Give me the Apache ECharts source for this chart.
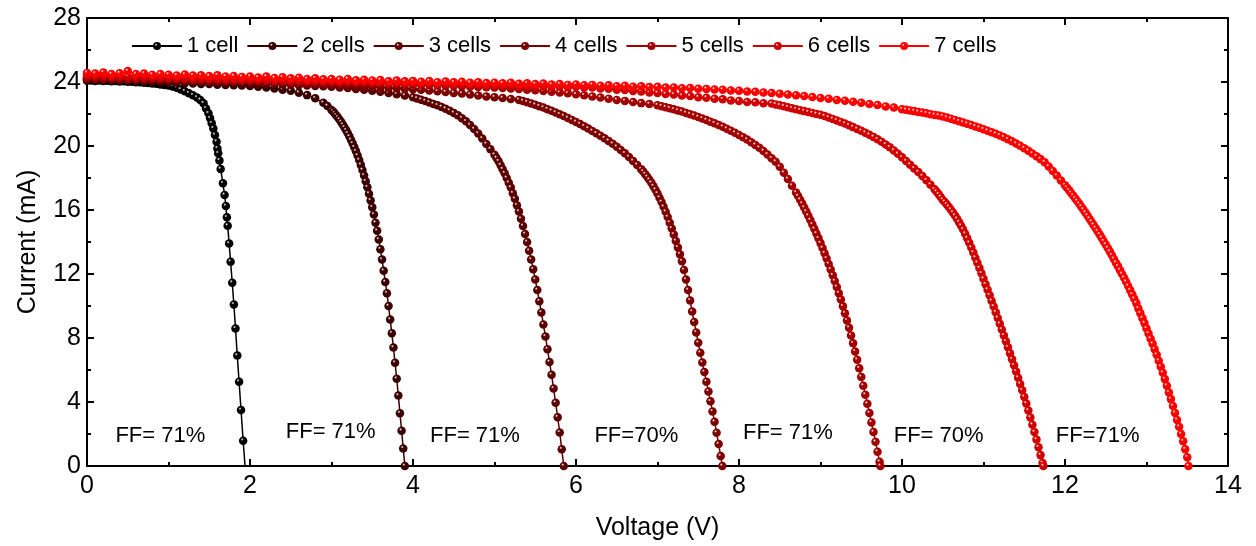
<!DOCTYPE html>
<html>
<head>
<meta charset="utf-8">
<script src="https://cdn.jsdelivr.net/npm/echarts@6/dist/echarts.min.js"></script>
<style>
  html, body { margin: 0; padding: 0; background: #fff; }
  #chart { width: 1256px; height: 546px; }
</style>
</head>
<body>
<div id="chart"></div>
<script>
// series names and colours
const seriesNames = ['1 cell', '2 cells', '3 cells', '4 cells', '5 cells', '6 cells', '7 cells']
const seriesColors = ['#000000', '#3a0000', '#5a0000', '#7c0000', '#a20000', '#d00000', '#ff0000']

// [voltage V, current mA]
const cell1 = [[0.00,24.08],[0.05,24.10],[0.10,24.07],[0.15,24.09],[0.20,24.06],[0.25,24.08],[0.30,24.05],[0.35,24.06],[0.40,24.03],[0.45,24.04],[0.50,24.01],[0.55,24.01],[0.60,23.98],[0.65,23.98],[0.70,23.95],[0.75,23.94],[0.80,23.91],[0.85,23.89],[0.90,23.85],[0.95,23.82],[1.00,23.78],[1.05,23.72],[1.10,23.64],[1.15,23.53],[1.20,23.42],[1.25,23.30],[1.30,23.17],[1.35,23.03],[1.39,22.88],[1.43,22.67],[1.46,22.35],[1.49,22.04],[1.51,21.73],[1.53,21.42],[1.55,21.10],[1.57,20.69],[1.59,20.27],[1.60,19.85],[1.61,19.54],[1.625,19.10],[1.64,18.56],[1.668,17.67],[1.688,16.94],[1.704,16.25],[1.716,15.54],[1.726,15.02],[1.744,13.90],[1.762,12.77],[1.782,11.46],[1.802,10.10],[1.822,8.60],[1.844,6.90],[1.866,5.27],[1.890,3.50],[1.916,1.58],[1.945,-0.40]]

const cell2 = [[0.0,24.12],[0.1,24.12],[0.2,24.10],[0.3,24.10],[0.4,24.08],[0.5,24.07],[0.6,24.04],[0.7,24.03],[0.8,24.00],[0.9,23.99],[1.0,23.96],[1.1,23.95],[1.2,23.92],[1.3,23.91],[1.4,23.88],[1.5,23.87],[1.6,23.83],[1.7,23.82],[1.8,23.79],[1.9,23.78],[2.0,23.75],[2.1,23.71],[2.2,23.65],[2.3,23.60],[2.4,23.52],[2.5,23.45],[2.6,23.33],[2.7,23.18],[2.8,22.98],[2.9,22.70],[2.95,22.50],
  [3.00,22.25],[3.02,22.15],[3.04,22.03],[3.06,21.91],[3.08,21.78],[3.10,21.64],[3.12,21.49],[3.14,21.33],[3.16,21.16],[3.18,20.98],[3.20,20.79],[3.22,20.59],[3.24,20.38],[3.26,20.16],[3.28,19.92],[3.30,19.67],[3.32,19.40],[3.34,19.12],[3.36,18.82],[3.38,18.50],[3.40,18.16],[3.42,17.80],[3.44,17.42],[3.46,17.02],[3.48,16.60],[3.50,16.17],[3.52,15.72],[3.54,15.20],[3.56,14.70],[3.58,14.15],[3.60,13.55],[3.62,12.90],[3.64,12.20],[3.66,11.50],[3.68,10.80],[3.70,10.00],[3.72,9.15],[3.74,8.30],[3.76,7.40],[3.78,6.45],[3.80,5.45],[3.82,4.40],[3.84,3.30],[3.86,2.20],[3.88,1.10],[3.90,0.00]]

const cell3 = [[0.0,24.18],[0.1,24.18],[0.2,24.16],[0.3,24.15],[0.4,24.14],[0.5,24.13],[0.6,24.12],[0.7,24.11],[0.8,24.10],[0.9,24.09],[1.0,24.08],[1.1,24.06],[1.2,24.05],[1.3,24.03],[1.4,24.02],[1.5,24.00],[1.6,23.99],[1.7,23.97],[1.8,23.96],[1.9,23.94],[2.0,23.93],[2.1,23.91],[2.2,23.89],[2.3,23.87],[2.4,23.85],[2.5,23.83],[2.6,23.80],[2.7,23.78],[2.8,23.75],[2.9,23.73],[3.0,23.70],[3.1,23.66],[3.2,23.62],[3.3,23.57],[3.4,23.51],[3.5,23.45],[3.6,23.39],[3.7,23.32],[3.8,23.24],[3.9,23.15],
  [4.00,23.04],[4.05,22.97],[4.10,22.89],[4.15,22.81],[4.20,22.72],[4.25,22.63],[4.30,22.54],[4.35,22.44],[4.40,22.33],[4.45,22.21],[4.50,22.07],[4.55,21.92],[4.60,21.74],[4.65,21.54],[4.70,21.31],[4.75,21.06],[4.80,20.78],[4.85,20.47],[4.90,20.13],[4.95,19.80],[5.00,19.45],
  [5.025,19.25],[5.050,19.05],[5.075,18.80],[5.100,18.55],[5.125,18.30],[5.150,18.00],[5.175,17.70],[5.200,17.40],[5.225,17.05],[5.250,16.70],[5.275,16.30],[5.300,15.90],[5.325,15.45],[5.350,15.00],[5.375,14.50],[5.400,14.00],[5.425,13.45],[5.450,12.90],[5.475,12.30],[5.500,11.65],[5.525,11.00],[5.550,10.30],[5.575,9.60],[5.600,8.85],[5.625,8.10],[5.650,7.30],[5.675,6.50],[5.700,5.70],[5.725,4.85],[5.750,3.95],[5.775,3.05],[5.800,2.10],[5.825,1.05],[5.850,0.00]]

const cell4 = [[0.0,24.22],[0.1,24.21],[0.2,24.21],[0.3,24.19],[0.4,24.19],[0.5,24.18],[0.6,24.16],[0.7,24.16],[0.8,24.15],[0.9,24.14],[1.0,24.13],[1.1,24.12],[1.2,24.11],[1.3,24.10],[1.4,24.09],[1.5,24.08],[1.6,24.07],[1.7,24.06],[1.8,24.05],[1.9,24.04],[2.0,24.03],[2.1,24.01],[2.2,23.99],[2.3,23.97],[2.4,23.95],[2.5,23.93],[2.6,23.91],[2.7,23.89],[2.8,23.87],[2.9,23.85],[3.0,23.83],[3.1,23.80],[3.2,23.78],[3.3,23.75],[3.4,23.73],[3.5,23.70],[3.6,23.67],[3.7,23.64],[3.8,23.61],[3.9,23.58],[4.0,23.55],[4.1,23.51],[4.2,23.47],[4.3,23.42],[4.4,23.37],[4.5,23.32],[4.6,23.28],[4.7,23.22],[4.8,23.16],[4.9,23.10],[5.0,23.05],[5.1,23.00],[5.2,22.94],
  [5.30,22.88],[5.35,22.81],[5.40,22.74],[5.45,22.66],[5.50,22.58],[5.55,22.49],[5.60,22.40],[5.65,22.30],[5.70,22.20],[5.75,22.09],[5.80,21.98],[5.85,21.87],[5.90,21.75],[5.95,21.63],[6.00,21.50],[6.05,21.37],[6.10,21.23],[6.15,21.09],[6.20,20.94],[6.25,20.79],[6.30,20.64],[6.35,20.48],[6.40,20.32],[6.45,20.14],[6.50,19.95],[6.55,19.75],[6.60,19.54],[6.65,19.31],[6.70,19.07],[6.75,18.82],[6.80,18.55],
  [6.825,18.40],[6.850,18.24],[6.875,18.07],[6.900,17.89],[6.925,17.70],[6.950,17.49],[6.975,17.27],[7.000,17.03],[7.025,16.77],[7.050,16.50],[7.075,16.20],[7.100,15.89],[7.125,15.56],[7.150,15.21],[7.175,14.85],[7.200,14.47],[7.225,14.07],[7.250,13.66],[7.275,13.24],[7.300,12.80],[7.325,12.25],[7.350,11.65],[7.375,11.00],[7.400,10.35],[7.425,9.65],[7.450,9.00],[7.475,8.35],[7.500,7.70],[7.525,7.08],[7.550,6.47],[7.575,5.87],[7.600,5.27],[7.625,4.66],[7.650,4.04],[7.675,3.41],[7.700,2.76],[7.725,2.08],[7.750,1.37],[7.775,0.62],[7.795,0.00]]

const cell5 = [[0.0,24.30],[0.1,24.29],[0.2,24.28],[0.3,24.27],[0.4,24.26],[0.5,24.25],[0.6,24.24],[0.7,24.23],[0.8,24.22],[0.9,24.21],[1.0,24.20],[1.1,24.19],[1.2,24.18],[1.3,24.17],[1.4,24.16],[1.5,24.15],[1.6,24.14],[1.7,24.13],[1.8,24.12],[1.9,24.11],[2.0,24.10],[2.1,24.09],[2.2,24.07],[2.3,24.06],[2.4,24.05],[2.5,24.04],[2.6,24.02],[2.7,24.01],[2.8,24.00],[2.9,23.99],[3.0,23.97],[3.1,23.96],[3.2,23.95],[3.3,23.94],[3.4,23.92],[3.5,23.91],[3.6,23.90],[3.7,23.89],[3.8,23.87],[3.9,23.86],[4.0,23.85],[4.1,23.83],[4.2,23.81],[4.3,23.79],[4.4,23.77],[4.5,23.75],[4.6,23.73],[4.7,23.71],[4.8,23.69],[4.9,23.67],[5.0,23.65],[5.1,23.62],[5.2,23.59],[5.3,23.56],[5.4,23.52],[5.5,23.48],[5.6,23.44],[5.7,23.39],[5.8,23.34],[5.9,23.29],[6.0,23.23],[6.1,23.17],[6.2,23.10],[6.3,23.03],[6.4,22.96],[6.5,22.88],[6.6,22.82],[6.7,22.75],[6.8,22.68],[6.9,22.62],
  [7.00,22.55],[7.05,22.49],[7.10,22.42],[7.15,22.36],[7.20,22.29],[7.25,22.22],[7.30,22.15],[7.35,22.07],[7.40,21.99],[7.45,21.90],[7.50,21.81],[7.55,21.72],[7.60,21.62],[7.65,21.52],[7.70,21.42],[7.75,21.31],[7.80,21.20],[7.85,21.08],[7.90,20.96],[7.95,20.83],[8.00,20.69],[8.05,20.55],[8.10,20.40],[8.15,20.24],[8.20,20.07],[8.25,19.89],[8.30,19.69],[8.35,19.47],[8.40,19.24],[8.45,19.02],[8.50,18.70],[8.55,18.33],[8.60,17.94],[8.65,17.52],[8.70,17.09],
  [8.725,16.87],[8.750,16.64],[8.775,16.40],[8.800,16.15],[8.825,15.90],[8.850,15.64],[8.875,15.37],[8.900,15.10],[8.925,14.82],[8.950,14.53],[8.975,14.23],[9.000,13.93],[9.025,13.62],[9.050,13.30],[9.075,12.97],[9.100,12.63],[9.125,12.28],[9.150,11.92],[9.175,11.56],[9.200,11.19],[9.225,10.80],[9.250,10.40],[9.275,9.98],[9.300,9.55],[9.325,9.10],[9.350,8.64],[9.375,8.16],[9.400,7.67],[9.425,7.16],[9.450,6.64],[9.475,6.11],[9.500,5.57],[9.525,5.02],[9.550,4.46],[9.575,3.89],[9.600,3.31],[9.625,2.72],[9.650,2.12],[9.675,1.51],[9.700,0.89],[9.725,0.26],[9.735,0.00]]

const cell6 = [[0.0,24.43],[0.1,24.40],[0.2,24.41],[0.3,24.38],[0.4,24.38],[0.5,24.35],[0.6,24.36],[0.7,24.32],[0.8,24.33],[0.9,24.29],[1.0,24.30],[1.1,24.26],[1.2,24.27],[1.3,24.23],[1.4,24.24],[1.5,24.20],[1.6,24.21],[1.7,24.17],[1.8,24.18],[1.9,24.15],[2.0,24.15],[2.1,24.12],[2.2,24.14],[2.3,24.10],[2.4,24.12],[2.5,24.08],[2.6,24.10],[2.7,24.06],[2.8,24.08],[2.9,24.04],[3.0,24.05],[3.1,24.02],[3.2,24.04],[3.3,24.00],[3.4,24.01],[3.5,23.98],[3.6,23.99],[3.7,23.96],[3.8,23.97],[3.9,23.94],[4.0,23.95],[4.1,23.92],[4.2,23.93],[4.3,23.89],[4.4,23.90],[4.5,23.86],[4.6,23.87],[4.7,23.83],[4.8,23.84],[4.9,23.80],[5.0,23.82],[5.1,23.78],[5.2,23.79],[5.3,23.75],[5.4,23.77],[5.5,23.73],[5.6,23.74],[5.7,23.70],[5.8,23.72],[5.9,23.68],[6.0,23.70],[6.1,23.66],[6.2,23.65],[6.3,23.60],[6.4,23.58],[6.5,23.52],[6.6,23.50],[6.7,23.44],[6.8,23.41],[6.9,23.35],[7.0,23.32],[7.1,23.25],[7.2,23.22],[7.3,23.15],[7.4,23.12],[7.5,23.05],[7.6,23.02],[7.7,22.95],[7.8,22.92],[7.9,22.85],[8.0,22.81],[8.1,22.75],[8.2,22.73],[8.3,22.67],
  [8.40,22.65],[8.45,22.60],[8.50,22.54],[8.55,22.48],[8.60,22.42],[8.65,22.36],[8.70,22.30],[8.75,22.24],[8.80,22.18],[8.85,22.12],[8.90,22.06],[8.95,22.00],[9.00,21.95],[9.05,21.87],[9.10,21.78],[9.15,21.69],[9.20,21.60],[9.25,21.50],[9.30,21.40],[9.35,21.29],[9.40,21.18],[9.45,21.07],[9.50,20.95],[9.55,20.83],[9.60,20.70],[9.65,20.57],[9.70,20.42],[9.75,20.27],[9.80,20.10],[9.85,19.92],[9.90,19.72],[9.95,19.51],[10.00,19.29],[10.05,19.06],[10.10,18.83],[10.15,18.60],[10.20,18.37],[10.25,18.12],[10.30,17.86],[10.35,17.58],[10.40,17.29],
  [10.425,17.14],[10.450,16.98],[10.475,16.81],[10.500,16.63],[10.525,16.50],[10.550,16.35],[10.575,16.19],[10.600,16.02],[10.625,15.84],[10.650,15.65],[10.675,15.45],[10.700,15.24],[10.725,15.02],[10.750,14.78],[10.775,14.52],[10.800,14.24],[10.825,13.95],[10.850,13.65],[10.875,13.34],[10.900,13.02],[10.925,12.70],[10.950,12.37],[10.975,12.04],[11.000,11.70],[11.025,11.36],[11.050,11.02],[11.075,10.67],[11.100,10.32],[11.125,9.97],[11.150,9.61],[11.175,9.25],[11.200,8.89],[11.225,8.53],[11.250,8.16],[11.275,7.79],[11.300,7.42],[11.325,7.05],[11.350,6.67],[11.375,6.29],[11.400,5.91],[11.425,5.52],[11.450,5.13],[11.475,4.73],[11.500,4.32],[11.525,3.90],[11.550,3.47],[11.575,3.03],[11.600,2.58],[11.625,2.12],[11.650,1.65],[11.675,1.17],[11.700,0.68],[11.725,0.18],[11.735,0.00]]

const cell7 = [[0.0,24.57],[0.1,24.53],[0.2,24.60],[0.3,24.50],[0.4,24.55],[0.5,24.68],[0.6,24.50],[0.7,24.53],[0.8,24.46],[0.9,24.50],[1.0,24.46],[1.1,24.41],[1.2,24.47],[1.3,24.41],[1.4,24.42],[1.5,24.37],[1.6,24.42],[1.7,24.35],[1.8,24.37],[1.9,24.32],[2.0,24.34],[2.1,24.28],[2.2,24.34],[2.3,24.25],[2.4,24.29],[2.5,24.23],[2.6,24.27],[2.7,24.19],[2.8,24.23],[2.9,24.17],[3.0,24.19],[3.1,24.14],[3.2,24.19],[3.3,24.11],[3.4,24.14],[3.5,24.10],[3.6,24.12],[3.7,24.05],[3.8,24.09],[3.9,24.04],[4.0,24.07],[4.1,24.02],[4.2,24.06],[4.3,23.99],[4.4,24.03],[4.5,23.98],[4.6,24.01],[4.7,23.95],[4.8,23.99],[4.9,23.93],[5.0,23.96],[5.1,23.92],[5.2,23.95],[5.3,23.89],[5.4,23.92],[5.5,23.87],[5.6,23.90],[5.7,23.84],[5.8,23.87],[5.9,23.82],[6.0,23.85],[6.1,23.80],[6.2,23.82],[6.3,23.77],[6.4,23.79],[6.5,23.74],[6.6,23.76],[6.7,23.71],[6.8,23.73],[6.9,23.68],[7.0,23.70],[7.1,23.65],[7.2,23.66],[7.3,23.61],[7.4,23.62],[7.5,23.58],[7.6,23.57],[7.7,23.53],[7.8,23.52],[7.9,23.47],[8.0,23.46],[8.1,23.41],[8.2,23.39],[8.3,23.34],[8.4,23.31],[8.5,23.26],[8.6,23.22],[8.7,23.17],[8.8,23.12],[8.9,23.06],[9.0,23.00],[9.1,22.95],[9.2,22.88],[9.3,22.83],[9.4,22.76],[9.5,22.70],[9.6,22.62],[9.7,22.56],[9.8,22.47],[9.9,22.40],
  [10.00,22.30],[10.05,22.26],[10.10,22.22],[10.15,22.18],[10.20,22.13],[10.25,22.09],[10.30,22.04],[10.35,21.99],[10.40,21.94],[10.45,21.90],[10.50,21.85],[10.55,21.78],[10.60,21.71],[10.65,21.63],[10.70,21.55],[10.75,21.47],[10.80,21.39],[10.85,21.31],[10.90,21.22],[10.95,21.14],[11.00,21.05],[11.05,20.95],[11.10,20.86],[11.15,20.76],[11.20,20.66],[11.25,20.55],[11.30,20.42],[11.35,20.29],[11.40,20.15],[11.45,20.01],[11.50,19.86],[11.55,19.70],[11.60,19.53],[11.65,19.36],[11.70,19.18],[11.75,18.99],[11.80,18.72],[11.85,18.44],[11.90,18.15],[11.95,17.85],[12.00,17.55],
  [12.025,17.39],[12.050,17.23],[12.075,17.06],[12.100,16.90],[12.125,16.73],[12.150,16.56],[12.175,16.39],[12.200,16.21],[12.225,16.03],[12.250,15.84],[12.275,15.65],[12.300,15.46],[12.325,15.27],[12.350,15.07],[12.375,14.87],[12.400,14.67],[12.425,14.47],[12.450,14.26],[12.475,14.05],[12.500,13.84],[12.525,13.62],[12.550,13.40],[12.575,13.17],[12.600,12.94],[12.625,12.71],[12.650,12.48],[12.675,12.24],[12.700,12.00],[12.725,11.76],[12.750,11.51],[12.775,11.25],[12.800,10.99],[12.825,10.72],[12.850,10.45],[12.875,10.18],[12.900,9.85],[12.925,9.55],[12.950,9.24],[12.975,8.93],[13.000,8.60],[13.025,8.28],[13.050,7.96],[13.075,7.64],[13.100,7.30],[13.125,6.95],[13.150,6.58],[13.175,6.21],[13.200,5.83],[13.225,5.43],[13.250,5.02],[13.275,4.60],[13.300,4.18],[13.325,3.75],[13.350,3.32],[13.375,2.88],[13.400,2.45],[13.425,2.00],[13.450,1.55],[13.475,1.05],[13.500,0.55],[13.515,0.00]]

const curves = [cell1, cell2, cell3, cell4, cell5, cell6, cell7]

// fill factor notes: [V, I, text]
const ffNotes = [[0.90,1.9,'FF= 71%'],[2.99,2.1,'FF= 71%'],[4.76,1.9,'FF= 71%'],[6.74,1.9,'FF=70%'],[8.60,2.05,'FF= 71%'],[10.45,1.9,'FF= 70%'],[12.40,1.9,'FF=71%']]

const FONT = 'Arial, "Liberation Sans", sans-serif'

const chart = echarts.init(document.getElementById('chart'))

//小球样式
const ball = function (base) {
  return new echarts.graphic.RadialGradient(0.38, 0.34, 0.62, [
    {offset: 0, color: '#ffffff'},
    {offset: 0.3, color: base},
    {offset: 1, color: base},
  ])
}

const axisCommon = {
  axisLine: {onZero: false, lineStyle: {color: '#000', width: 2}},
  axisTick: {inside: true, length: 7, lineStyle: {color: '#000', width: 2}},
  minorTick: {show: true, splitNumber: 2, length: 4, lineStyle: {color: '#000', width: 2}},
  splitLine: {show: false},
}

const series = curves.map((data, i) => ({
  name: seriesNames[i],
  type: 'line',
  data: data,
  symbol: 'circle',
  symbolSize: 8.5,
  showSymbol: true,
  showAllSymbol: true,
  sampling: null,
  clip: true,
  lineStyle: {color: seriesColors[i], width: 1.5},
  itemStyle: {color: ball(seriesColors[i]), borderWidth: 0},
  emphasis: {disabled: true},
  z: 2,
}))

series.push({
  name: 'ff',
  type: 'scatter',
  data: ffNotes,
  symbolSize: 0,
  itemStyle: {color: '#000'},
  label: {
    show: true,
    position: 'inside',
    formatter: p => p.value[2],
    fontFamily: FONT,
    fontSize: 22,
    color: '#000',
    opacity: 1,
    textBorderWidth: 0,
  },
  z: 5,
  silent: true,
})

chart.setOption({
  animation: false,
  backgroundColor: '#fff',
  grid: {left: 87, right: 28, top: 18, bottom: 80},
  legend: {
    data: seriesNames,
    left: 126,
    top: 30,
    itemWidth: 50,
    itemHeight: 10,
    itemGap: 8,
    textStyle: {fontFamily: FONT, fontSize: 22, color: '#000'},
  },
  xAxis: [
    {
      type: 'value', min: 0, max: 14, interval: 2, position: 'bottom',
      name: 'Voltage (V)', nameLocation: 'middle', nameGap: 50,
      nameTextStyle: {fontFamily: FONT, fontSize: 25, color: '#000'},
      axisLabel: {fontFamily: FONT, fontSize: 25, color: '#000', margin: 8},
      ...axisCommon,
    },
    {
      type: 'value', min: 0, max: 14, interval: 2, position: 'top',
      axisLabel: {show: false},
      ...axisCommon,
    },
  ],
  yAxis: [
    {
      type: 'value', min: 0, max: 28, interval: 4, position: 'left',
      name: 'Current (mA)', nameLocation: 'middle', nameGap: 46,
      nameTextStyle: {fontFamily: FONT, fontSize: 25, color: '#000'},
      axisLabel: {fontFamily: FONT, fontSize: 25, color: '#000', margin: 6},
      ...axisCommon,
    },
    {
      type: 'value', min: 0, max: 28, interval: 4, position: 'right',
      axisLabel: {show: false},
      ...axisCommon,
    },
  ],
  series: series,
})
</script>
</body>
</html>
